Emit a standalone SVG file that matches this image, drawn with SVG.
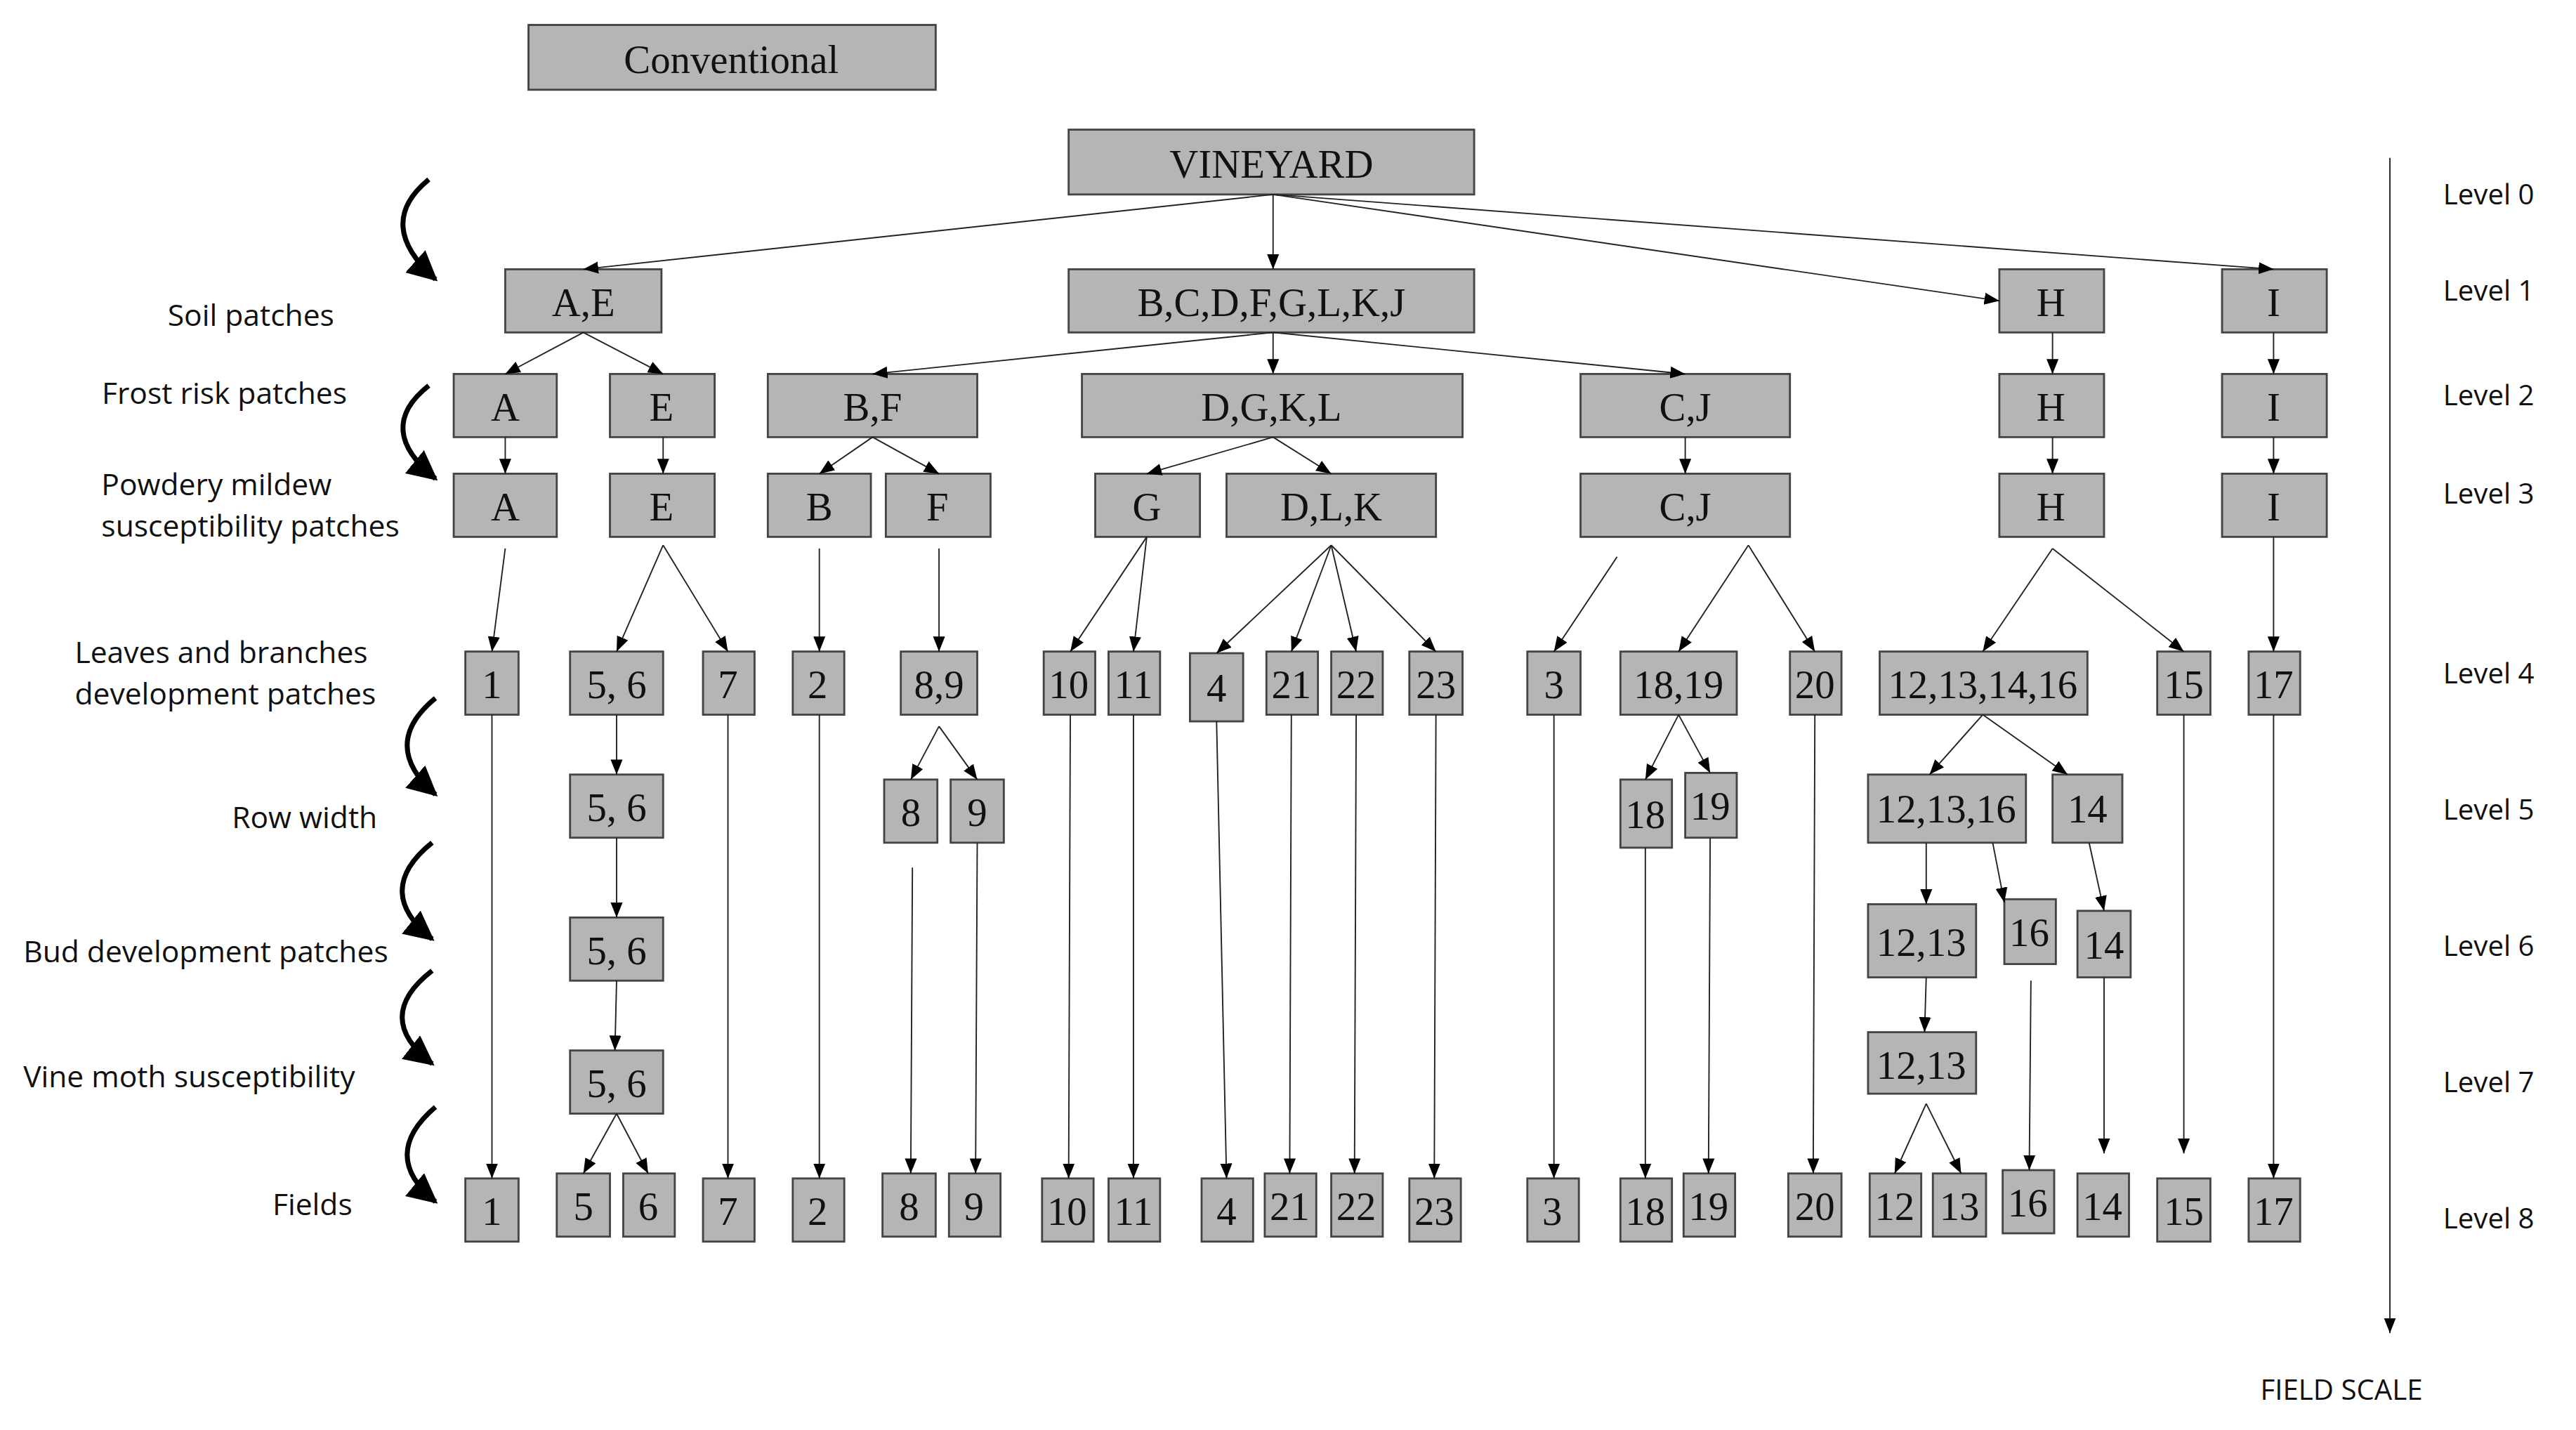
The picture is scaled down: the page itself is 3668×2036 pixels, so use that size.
<svg xmlns="http://www.w3.org/2000/svg" width="3668" height="2036" viewBox="0 0 3668 2036">
<style>
.b rect{fill:#b5b5b5;stroke:#444;stroke-width:1.2}
.b text{font-family:"Liberation Serif",serif;font-size:24px;fill:#111;text-anchor:middle}
.c line,.c path{stroke:#222;stroke-width:0.8;fill:none}
.c .k{stroke:#000;stroke-width:3}
.lab{font-family:"Open Sans","Liberation Sans",sans-serif;font-size:18px;fill:#111}
</style>
<defs>
<marker id="a" viewBox="0 0 10 10" refX="10" refY="5" markerWidth="9" markerHeight="9" markerUnits="userSpaceOnUse" orient="auto"><path d="M0,1 L10,5 L0,9 z" fill="#000"/></marker>
<marker id="k" viewBox="0 0 10 10" refX="9" refY="5" markerWidth="6" markerHeight="6" orient="auto"><path d="M0,0 L10,5 L0,10 z" fill="#000"/></marker>
</defs>
<rect width="3668" height="2036" fill="#fff"/>
<g transform="scale(2.3665)">
<g class="b">
<g id="conv"><rect x="318" y="15" width="245" height="39" fill="#c4c4c4"/><text x="440" y="44">Conventional</text></g>
<g id="vineyard"><rect x="643" y="78" width="244" height="39"/><text x="765" y="107">VINEYARD</text></g>
<g id="l1ae"><rect x="304" y="162" width="94" height="38"/><text x="351" y="190">A,E</text></g>
<g id="l1b"><rect x="643" y="162" width="244" height="38"/><text x="765" y="190">B,C,D,F,G,L,K,J</text></g>
<g id="l1h"><rect x="1203" y="162" width="63" height="38"/><text x="1234" y="190">H</text></g>
<g id="l1i"><rect x="1337" y="162" width="63" height="38"/><text x="1368" y="190">I</text></g>
<g id="l2a"><rect x="273" y="225" width="62" height="38"/><text x="304" y="253">A</text></g>
<g id="l2e"><rect x="367" y="225" width="63" height="38"/><text x="398" y="253">E</text></g>
<g id="l2bf"><rect x="462" y="225" width="126" height="38"/><text x="525" y="253">B,F</text></g>
<g id="l2d"><rect x="651" y="225" width="229" height="38"/><text x="765" y="253">D,G,K,L</text></g>
<g id="l2cj"><rect x="951" y="225" width="126" height="38"/><text x="1014" y="253">C,J</text></g>
<g id="l2h"><rect x="1203" y="225" width="63" height="38"/><text x="1234" y="253">H</text></g>
<g id="l2i"><rect x="1337" y="225" width="63" height="38"/><text x="1368" y="253">I</text></g>
<g id="l3a"><rect x="273" y="285" width="62" height="38"/><text x="304" y="313">A</text></g>
<g id="l3e"><rect x="367" y="285" width="63" height="38"/><text x="398" y="313">E</text></g>
<g id="l3b"><rect x="462" y="285" width="62" height="38"/><text x="493" y="313">B</text></g>
<g id="l3f"><rect x="533" y="285" width="63" height="38"/><text x="564" y="313">F</text></g>
<g id="l3g"><rect x="659" y="285" width="63" height="38"/><text x="690" y="313">G</text></g>
<g id="l3dlk"><rect x="738" y="285" width="126" height="38"/><text x="801" y="313">D,L,K</text></g>
<g id="l3cj"><rect x="951" y="285" width="126" height="38"/><text x="1014" y="313">C,J</text></g>
<g id="l3h"><rect x="1203" y="285" width="63" height="38"/><text x="1234" y="313">H</text></g>
<g id="l3i"><rect x="1337" y="285" width="63" height="38"/><text x="1368" y="313">I</text></g>
<g id="l4_1"><rect x="280" y="392" width="32" height="38"/><text x="296" y="420">1</text></g>
<g id="l4_56"><rect x="343" y="392" width="56" height="38"/><text x="371" y="420">5, 6</text></g>
<g id="l4_7"><rect x="423" y="392" width="31" height="38"/><text x="438" y="420">7</text></g>
<g id="l4_2"><rect x="477" y="392" width="31" height="38"/><text x="492" y="420">2</text></g>
<g id="l4_89"><rect x="542" y="392" width="46" height="38"/><text x="565" y="420">8,9</text></g>
<g id="l4_10"><rect x="628" y="392" width="31" height="38"/><text x="643" y="420">10</text></g>
<g id="l4_11"><rect x="667" y="392" width="31" height="38"/><text x="682" y="420">11</text></g>
<g id="l4_4"><rect x="716" y="393" width="32" height="41"/><text x="732" y="422">4</text></g>
<g id="l4_21"><rect x="762" y="392" width="31" height="38"/><text x="777" y="420">21</text></g>
<g id="l4_22"><rect x="801" y="392" width="31" height="38"/><text x="816" y="420">22</text></g>
<g id="l4_23"><rect x="848" y="392" width="32" height="38"/><text x="864" y="420">23</text></g>
<g id="l4_3"><rect x="919" y="392" width="32" height="38"/><text x="935" y="420">3</text></g>
<g id="l4_1819"><rect x="975" y="392" width="70" height="38"/><text x="1010" y="420">18,19</text></g>
<g id="l4_20"><rect x="1077" y="392" width="31" height="38"/><text x="1092" y="420">20</text></g>
<g id="l4_12"><rect x="1131" y="392" width="125" height="38"/><text x="1193" y="420">12,13,14,16</text></g>
<g id="l4_15"><rect x="1298" y="392" width="32" height="38"/><text x="1314" y="420">15</text></g>
<g id="l4_17"><rect x="1353" y="392" width="31" height="38"/><text x="1368" y="420">17</text></g>
<g id="l5_56"><rect x="343" y="466" width="56" height="38"/><text x="371" y="494">5, 6</text></g>
<g id="l5_8"><rect x="532" y="469" width="32" height="38"/><text x="548" y="497">8</text></g>
<g id="l5_9"><rect x="572" y="469" width="32" height="38"/><text x="588" y="497">9</text></g>
<g id="l5_18"><rect x="975" y="469" width="31" height="41"/><text x="990" y="498">18</text></g>
<g id="l5_19"><rect x="1014" y="465" width="31" height="39"/><text x="1029" y="493">19</text></g>
<g id="l5_121316"><rect x="1124" y="466" width="95" height="41"/><text x="1171" y="495">12,13,16</text></g>
<g id="l5_14"><rect x="1235" y="466" width="42" height="41"/><text x="1256" y="495">14</text></g>
<g id="l6_56"><rect x="343" y="552" width="56" height="38"/><text x="371" y="580">5, 6</text></g>
<g id="l6_1213"><rect x="1124" y="544" width="65" height="44"/><text x="1156" y="575">12,13</text></g>
<g id="l6_16"><rect x="1206" y="541" width="31" height="39"/><text x="1221" y="569">16</text></g>
<g id="l6_14"><rect x="1250" y="548" width="32" height="40"/><text x="1266" y="577">14</text></g>
<g id="l7_56"><rect x="343" y="632" width="56" height="38"/><text x="371" y="660">5, 6</text></g>
<g id="l7_1213"><rect x="1124" y="621" width="65" height="37"/><text x="1156" y="649">12,13</text></g>
<g id="f1"><rect x="280" y="709" width="32" height="38"/><text x="296" y="737">1</text></g>
<g id="f5"><rect x="335" y="706" width="32" height="38"/><text x="351" y="734">5</text></g>
<g id="f6"><rect x="375" y="706" width="31" height="38"/><text x="390" y="734">6</text></g>
<g id="f7"><rect x="423" y="709" width="31" height="38"/><text x="438" y="737">7</text></g>
<g id="f2"><rect x="477" y="709" width="31" height="38"/><text x="492" y="737">2</text></g>
<g id="f8"><rect x="531" y="706" width="32" height="38"/><text x="547" y="734">8</text></g>
<g id="f9"><rect x="571" y="706" width="31" height="38"/><text x="586" y="734">9</text></g>
<g id="f10"><rect x="627" y="709" width="31" height="38"/><text x="642" y="737">10</text></g>
<g id="f11"><rect x="667" y="709" width="31" height="38"/><text x="682" y="737">11</text></g>
<g id="f4"><rect x="723" y="709" width="31" height="38"/><text x="738" y="737">4</text></g>
<g id="f21"><rect x="761" y="706" width="31" height="38"/><text x="776" y="734">21</text></g>
<g id="f22"><rect x="801" y="706" width="31" height="38"/><text x="816" y="734">22</text></g>
<g id="f23"><rect x="848" y="709" width="31" height="38"/><text x="863" y="737">23</text></g>
<g id="f3"><rect x="919" y="709" width="31" height="38"/><text x="934" y="737">3</text></g>
<g id="f18"><rect x="975" y="709" width="31" height="38"/><text x="990" y="737">18</text></g>
<g id="f19"><rect x="1013" y="706" width="31" height="38"/><text x="1028" y="734">19</text></g>
<g id="f20"><rect x="1076" y="706" width="32" height="38"/><text x="1092" y="734">20</text></g>
<g id="f12"><rect x="1125" y="706" width="31" height="38"/><text x="1140" y="734">12</text></g>
<g id="f13"><rect x="1163" y="706" width="32" height="38"/><text x="1179" y="734">13</text></g>
<g id="f16"><rect x="1205" y="704" width="31" height="38"/><text x="1220" y="732">16</text></g>
<g id="f14"><rect x="1250" y="706" width="31" height="38"/><text x="1265" y="734">14</text></g>
<g id="f15"><rect x="1298" y="709" width="32" height="38"/><text x="1314" y="737">15</text></g>
<g id="f17"><rect x="1353" y="709" width="31" height="38"/><text x="1368" y="737">17</text></g>
</g>
<g class="c" marker-end="url(#a)">
<line x1="766" y1="117" x2="351" y2="162" marker-end="url(#a)"/>
<line x1="766" y1="117" x2="766" y2="162" marker-end="url(#a)"/>
<line x1="766" y1="117" x2="1203" y2="181" marker-end="url(#a)"/>
<line x1="766" y1="117" x2="1368" y2="162" marker-end="url(#a)"/>
<line x1="351" y1="200" x2="304" y2="225" marker-end="url(#a)"/>
<line x1="351" y1="200" x2="399" y2="225" marker-end="url(#a)"/>
<line x1="766" y1="200" x2="525" y2="225" marker-end="url(#a)"/>
<line x1="766" y1="200" x2="766" y2="225" marker-end="url(#a)"/>
<line x1="766" y1="200" x2="1014" y2="225" marker-end="url(#a)"/>
<line x1="1235" y1="200" x2="1235" y2="225" marker-end="url(#a)"/>
<line x1="1368" y1="200" x2="1368" y2="225" marker-end="url(#a)"/>
<line x1="304" y1="263" x2="304" y2="285" marker-end="url(#a)"/>
<line x1="399" y1="263" x2="399" y2="285" marker-end="url(#a)"/>
<line x1="525" y1="263" x2="493" y2="285" marker-end="url(#a)"/>
<line x1="525" y1="263" x2="565" y2="285" marker-end="url(#a)"/>
<line x1="766" y1="263" x2="690" y2="285" marker-end="url(#a)"/>
<line x1="766" y1="263" x2="801" y2="285" marker-end="url(#a)"/>
<line x1="1014" y1="263" x2="1014" y2="285" marker-end="url(#a)"/>
<line x1="1235" y1="263" x2="1235" y2="285" marker-end="url(#a)"/>
<line x1="1368" y1="263" x2="1368" y2="285" marker-end="url(#a)"/>
<line x1="304" y1="330" x2="296" y2="392" marker-end="url(#a)"/>
<line x1="399" y1="328" x2="371" y2="392" marker-end="url(#a)"/>
<line x1="399" y1="328" x2="438" y2="392" marker-end="url(#a)"/>
<line x1="493" y1="330" x2="493" y2="392" marker-end="url(#a)"/>
<line x1="565" y1="330" x2="565" y2="392" marker-end="url(#a)"/>
<line x1="690" y1="323" x2="644" y2="392" marker-end="url(#a)"/>
<line x1="690" y1="323" x2="682" y2="392" marker-end="url(#a)"/>
<line x1="801" y1="328" x2="732" y2="393" marker-end="url(#a)"/>
<line x1="801" y1="328" x2="777" y2="392" marker-end="url(#a)"/>
<line x1="801" y1="328" x2="816" y2="392" marker-end="url(#a)"/>
<line x1="801" y1="328" x2="864" y2="392" marker-end="url(#a)"/>
<line x1="973" y1="335" x2="935" y2="392" marker-end="url(#a)"/>
<line x1="1052" y1="328" x2="1010" y2="392" marker-end="url(#a)"/>
<line x1="1052" y1="328" x2="1092" y2="392" marker-end="url(#a)"/>
<line x1="1235" y1="330" x2="1193" y2="392" marker-end="url(#a)"/>
<line x1="1235" y1="330" x2="1314" y2="392" marker-end="url(#a)"/>
<line x1="1368" y1="323" x2="1368" y2="392" marker-end="url(#a)"/>
<line x1="296" y1="430" x2="296" y2="709" marker-end="url(#a)"/>
<line x1="371" y1="430" x2="371" y2="466" marker-end="url(#a)"/>
<line x1="371" y1="504" x2="371" y2="552" marker-end="url(#a)"/>
<line x1="371" y1="590" x2="370" y2="632" marker-end="url(#a)"/>
<line x1="371" y1="670" x2="351" y2="706" marker-end="url(#a)"/>
<line x1="371" y1="670" x2="390" y2="706" marker-end="url(#a)"/>
<line x1="438" y1="430" x2="438" y2="709" marker-end="url(#a)"/>
<line x1="493" y1="430" x2="493" y2="709" marker-end="url(#a)"/>
<line x1="565" y1="437" x2="548" y2="469" marker-end="url(#a)"/>
<line x1="565" y1="437" x2="588" y2="469" marker-end="url(#a)"/>
<line x1="549" y1="522" x2="548" y2="706" marker-end="url(#a)"/>
<line x1="588" y1="507" x2="587" y2="706" marker-end="url(#a)"/>
<line x1="644" y1="430" x2="643" y2="709" marker-end="url(#a)"/>
<line x1="682" y1="430" x2="682" y2="709" marker-end="url(#a)"/>
<line x1="732" y1="434" x2="738" y2="709" marker-end="url(#a)"/>
<line x1="777" y1="430" x2="776" y2="706" marker-end="url(#a)"/>
<line x1="816" y1="430" x2="815" y2="706" marker-end="url(#a)"/>
<line x1="864" y1="430" x2="863" y2="709" marker-end="url(#a)"/>
<line x1="935" y1="430" x2="935" y2="709" marker-end="url(#a)"/>
<line x1="1010" y1="430" x2="990" y2="469" marker-end="url(#a)"/>
<line x1="1010" y1="430" x2="1029" y2="465" marker-end="url(#a)"/>
<line x1="990" y1="510" x2="990" y2="709" marker-end="url(#a)"/>
<line x1="1029" y1="504" x2="1028" y2="706" marker-end="url(#a)"/>
<line x1="1092" y1="430" x2="1091" y2="706" marker-end="url(#a)"/>
<line x1="1193" y1="430" x2="1161" y2="466" marker-end="url(#a)"/>
<line x1="1193" y1="430" x2="1244" y2="466" marker-end="url(#a)"/>
<line x1="1159" y1="507" x2="1159" y2="544" marker-end="url(#a)"/>
<line x1="1199" y1="507" x2="1206" y2="543" marker-end="url(#a)"/>
<line x1="1257" y1="507" x2="1266" y2="548" marker-end="url(#a)"/>
<line x1="1159" y1="588" x2="1158" y2="621" marker-end="url(#a)"/>
<line x1="1159" y1="664" x2="1140" y2="706" marker-end="url(#a)"/>
<line x1="1159" y1="664" x2="1180" y2="706" marker-end="url(#a)"/>
<line x1="1222" y1="590" x2="1221" y2="704" marker-end="url(#a)"/>
<line x1="1266" y1="588" x2="1266" y2="694" marker-end="url(#a)"/>
<line x1="1314" y1="430" x2="1314" y2="694" marker-end="url(#a)"/>
<line x1="1368" y1="430" x2="1368" y2="709" marker-end="url(#a)"/>
<line x1="1438" y1="95" x2="1438" y2="802" marker-end="url(#a)"/>
<path class="k" d="M258,108 Q225,135 262,168" marker-end="url(#k)"/>
<path class="k" d="M258,232 Q225,258 262,288" marker-end="url(#k)"/>
<path class="k" d="M262,420 Q228,448 262,478" marker-end="url(#k)"/>
<path class="k" d="M260,507 Q224,536 260,565" marker-end="url(#k)"/>
<path class="k" d="M260,584 Q224,612 260,640" marker-end="url(#k)"/>
<path class="k" d="M262,666 Q228,695 262,723" marker-end="url(#k)"/>
</g>
<g class="lab">
<text x="151" y="196" text-anchor="middle">Soil patches</text>
<text x="135" y="243" text-anchor="middle">Frost risk patches</text>
<text x="61" y="298">Powdery mildew</text>
<text x="61" y="323">susceptibility patches</text>
<text x="45" y="399">Leaves and branches</text>
<text x="45" y="424">development patches</text>
<text x="227" y="498" text-anchor="end">Row width</text>
<text x="14" y="579">Bud development patches</text>
<text x="14" y="654">Vine moth susceptibility</text>
<text x="212" y="731" text-anchor="end">Fields</text>
<g font-size="17">
<text x="1470" y="123">Level 0</text>
<text x="1470" y="181">Level 1</text>
<text x="1470" y="244">Level 2</text>
<text x="1470" y="303">Level 3</text>
<text x="1470" y="411">Level 4</text>
<text x="1470" y="493">Level 5</text>
<text x="1470" y="575">Level 6</text>
<text x="1470" y="657">Level 7</text>
<text x="1470" y="739">Level 8</text>
<text x="1360" y="842">FIELD SCALE</text>
</g>
</g>
</g>
</svg>
